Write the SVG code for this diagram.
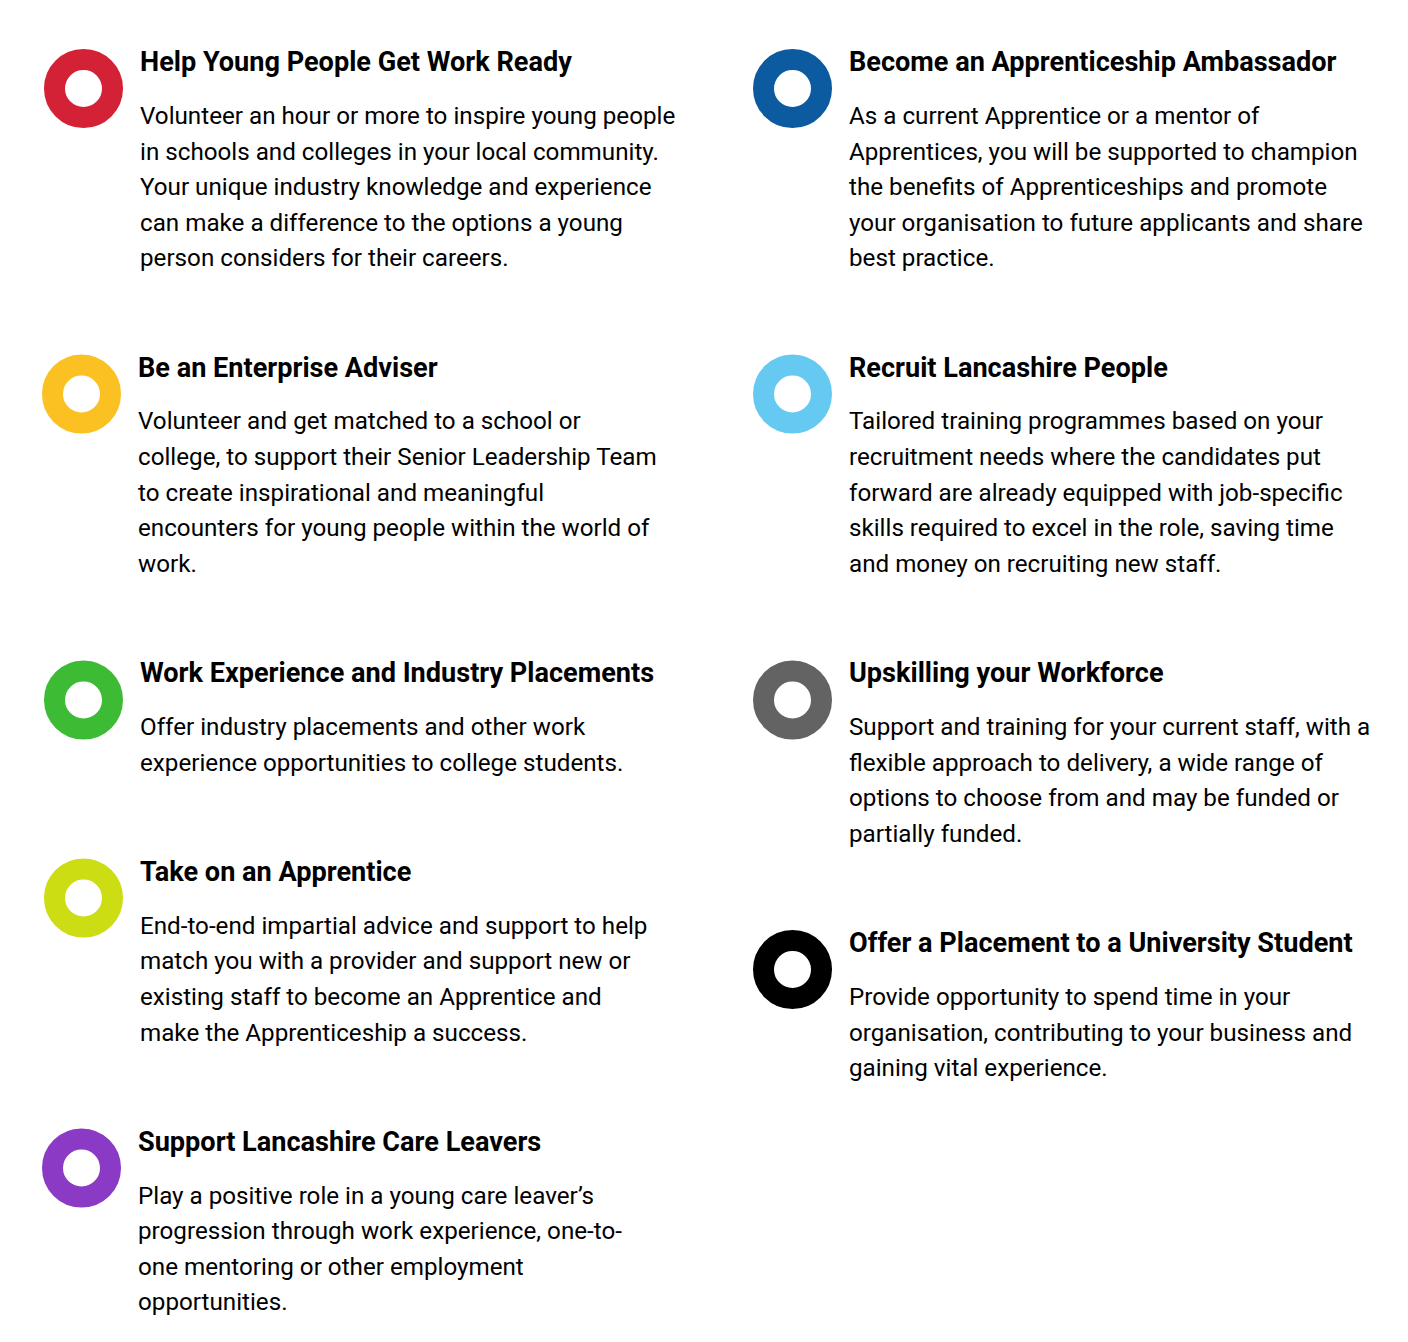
<svg xmlns="http://www.w3.org/2000/svg" width="1408" height="1342" viewBox="0 0 1408 1342">
<style>
.t{font-family:Roboto,"Liberation Sans",sans-serif;font-weight:700;font-size:27.1px;fill:#000}
.b{font-family:Roboto,"Liberation Sans",sans-serif;font-size:24.2px;fill:#000}
.r{fill:none;stroke-width:21}
</style>
<rect width="1408" height="1342" fill="#fff"/>
<g id="n1">
<circle class="r" cx="83.5" cy="88.5" r="29" stroke="#D32236"/>
<text class="t" x="140" y="70.5">Help Young People Get Work Ready</text>
<text class="b" x="140" y="124">Volunteer an hour or more to inspire young people</text>
<text class="b" x="140" y="160">in schools and colleges in your local community.</text>
<text class="b" x="140" y="195">Your unique industry knowledge and experience</text>
<text class="b" x="140" y="231">can make a difference to the options a young</text>
<text class="b" x="140" y="266">person considers for their careers.</text>
</g>
<g id="n2">
<circle class="r" cx="81.5" cy="394" r="29" stroke="#FBC123"/>
<text class="t" x="138" y="377">Be an Enterprise Adviser</text>
<text class="b" x="138" y="429">Volunteer and get matched to a school or</text>
<text class="b" x="138" y="465">college, to support their Senior Leadership Team</text>
<text class="b" x="138" y="501">to create inspirational and meaningful</text>
<text class="b" x="138" y="536">encounters for young people within the world of</text>
<text class="b" x="138" y="572">work.</text>
</g>
<g id="n3">
<circle class="r" cx="83.5" cy="700" r="29" stroke="#3DBB35"/>
<text class="t" x="140" y="682">Work Experience and Industry Placements</text>
<text class="b" x="140" y="735">Offer industry placements and other work</text>
<text class="b" x="140" y="771">experience opportunities to college students.</text>
</g>
<g id="n4">
<circle class="r" cx="83.5" cy="898" r="29" stroke="#CCDD14"/>
<text class="t" x="140" y="881">Take on an Apprentice</text>
<text class="b" x="140" y="934">End-to-end impartial advice and support to help</text>
<text class="b" x="140" y="969">match you with a provider and support new or</text>
<text class="b" x="140" y="1005">existing staff to become an Apprentice and</text>
<text class="b" x="140" y="1041">make the Apprenticeship a success.</text>
</g>
<g id="n5">
<circle class="r" cx="81.5" cy="1168" r="29" stroke="#8A3AC4"/>
<text class="t" x="138" y="1151">Support Lancashire Care Leavers</text>
<text class="b" x="138" y="1204">Play a positive role in a young care leaver’s</text>
<text class="b" x="138" y="1239">progression through work experience, one-to-</text>
<text class="b" x="138" y="1275">one mentoring or other employment</text>
<text class="b" x="138" y="1310">opportunities.</text>
</g>
<g id="n6">
<circle class="r" cx="792.5" cy="88.5" r="29" stroke="#0C5AA0"/>
<text class="t" x="849" y="70.5">Become an Apprenticeship Ambassador</text>
<text class="b" x="849" y="124">As a current Apprentice or a mentor of</text>
<text class="b" x="849" y="160">Apprentices, you will be supported to champion</text>
<text class="b" x="849" y="195">the benefits of Apprenticeships and promote</text>
<text class="b" x="849" y="231">your organisation to future applicants and share</text>
<text class="b" x="849" y="266">best practice.</text>
</g>
<g id="n7">
<circle class="r" cx="792.5" cy="394" r="29" stroke="#66C9F1"/>
<text class="t" x="849" y="377">Recruit Lancashire People</text>
<text class="b" x="849" y="429">Tailored training programmes based on your</text>
<text class="b" x="849" y="465">recruitment needs where the candidates put</text>
<text class="b" x="849" y="501">forward are already equipped with job-specific</text>
<text class="b" x="849" y="536">skills required to excel in the role, saving time</text>
<text class="b" x="849" y="572">and money on recruiting new staff.</text>
</g>
<g id="n8">
<circle class="r" cx="792.5" cy="700" r="29" stroke="#636363"/>
<text class="t" x="849" y="682">Upskilling your Workforce</text>
<text class="b" x="849" y="735">Support and training for your current staff, with a</text>
<text class="b" x="849" y="771">flexible approach to delivery, a wide range of</text>
<text class="b" x="849" y="806">options to choose from and may be funded or</text>
<text class="b" x="849" y="842">partially funded.</text>
</g>
<g id="n9">
<circle class="r" cx="792.5" cy="969.5" r="29" stroke="#000000"/>
<text class="t" x="849" y="952">Offer a Placement to a University Student</text>
<text class="b" x="849" y="1005">Provide opportunity to spend time in your</text>
<text class="b" x="849" y="1041">organisation, contributing to your business and</text>
<text class="b" x="849" y="1076">gaining vital experience.</text>
</g>
<g id="connectors"/>
</svg>
